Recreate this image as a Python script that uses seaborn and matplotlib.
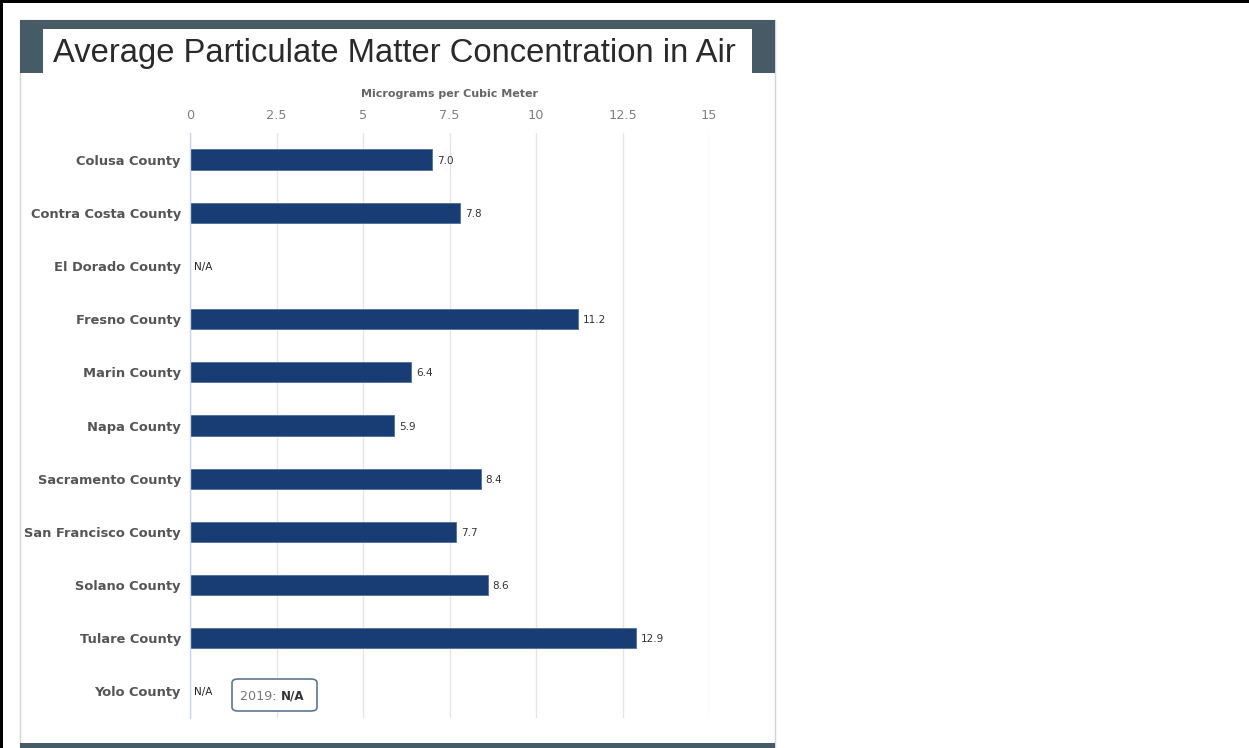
import numpy as np
import pandas as pd
import matplotlib
matplotlib.use("Agg")
import matplotlib.pyplot as plt
from matplotlib.patches import Rectangle, FancyBboxPatch
import seaborn as sns

# Data
counties = ["Colusa County", "Contra Costa County", "El Dorado County", "Fresno County",
            "Marin County", "Napa County", "Sacramento County", "San Francisco County",
            "Solano County", "Tulare County", "Yolo County"]
pm_values = [7.0, 7.8, np.nan, 11.2, 6.4, 5.9, 8.4, 7.7, 8.6, 12.9, np.nan]
x_ticks = [0, 2.5, 5, 7.5, 10, 12.5, 15]
x_tick_labels = ["0", "2.5", "5", "7.5", "10", "12.5", "15"]

title = "Average Particulate Matter Concentration in Air"
axis_title = "Micrograms per Cubic Meter"
tooltip_year = "2019: "
tooltip_value = "N/A"

df = pd.DataFrame({"county": counties, "pm": pm_values})

W, H = 1249, 748
sns.set_theme(style="white")
plt.rcParams["font.family"] = ["DejaVu Sans"]

fig = plt.figure(figsize=(W / 100, H / 100), dpi=100)
fig.patch.set_facecolor("white")


def fx(px):
    return px / W


def fy(py):
    return 1 - py / H


def rect(x0, y0, x1, y1, **kw):
    fig.add_artist(Rectangle((fx(x0), fy(y1)), fx(x1) - fx(x0), fy(y0) - fy(y1),
                             transform=fig.transFigure, **kw))


# Page frame
rect(0, 0, W, 2.5, facecolor="black", edgecolor="none", zorder=0)
rect(0, 0, 3, H, facecolor="black", edgecolor="none", zorder=0)

# Card with header band
rect(20, 20, 775, 748, facecolor="white", edgecolor="#d5d5d5", linewidth=1, zorder=0)
rect(20, 20, 775, 73, facecolor="#465b65", edgecolor="none", zorder=1)
rect(43, 29, 752, 74, facecolor="white", edgecolor="none", zorder=2)
rect(20, 743, 775, 748, facecolor="#465b65", edgecolor="none", zorder=1)

fig.text(fx(394), fy(53.5), title, ha="center", va="center", fontsize=23.6,
         family=["Liberation Sans"], color="#2a2a2a", zorder=3)

# Plot area
ax = fig.add_axes([fx(190), fy(718), fx(709) - fx(190), fy(133) - fy(718)])
ax.set_facecolor("none")

sns.barplot(data=df, x="pm", y="county", order=counties, orient="h",
            color="#173d74", width=0.38, saturation=1, ax=ax, zorder=2,
            edgecolor="#4f6f9a", linewidth=0.6)

ax.set_xlim(0, 15)
ax.set_ylim(10.5, -0.5)
ax.xaxis.tick_top()
ax.xaxis.set_label_position("top")
ax.set_xticks(x_ticks)
ax.set_xticklabels(x_tick_labels, color="#808080", fontsize=9.3)
ax.tick_params(axis="x", length=0, pad=7.7)
ax.set_xlabel(axis_title, fontsize=8.0, color="#666666", fontweight="bold", labelpad=8.6)
ax.set_ylabel("")
ax.grid(axis="x", color="#e6e6e6", linewidth=1, zorder=0)
ax.set_axisbelow(True)

ax.set_yticks(range(len(counties)))
ax.set_yticklabels(counties, fontsize=9.4, color="#555555", fontweight="bold")
ax.set_yticks(np.arange(-0.5, len(counties), 1), minor=True)
ax.tick_params(axis="y", which="major", length=0, pad=6.5)
ax.tick_params(axis="y", which="minor", length=5, width=1, color="#ccd6eb", direction="out")

for side in ["top", "right", "bottom"]:
    ax.spines[side].set_visible(False)
ax.spines["left"].set_color("#ccd6eb")
ax.spines["left"].set_linewidth(1)

# Value labels
for i, v in enumerate(pm_values):
    if np.isnan(v):
        ax.annotate("N/A", (0, i), xytext=(3, 0), textcoords="offset points",
                    va="center_baseline", ha="left", fontsize=7.5, color="#222222")
    else:
        ax.annotate(f"{v:.1f}", (v, i), xytext=(3.5, 0), textcoords="offset points",
                    va="center_baseline", ha="left", fontsize=7.5, color="#333333")

# Tooltip on the last category
box = FancyBboxPatch((fx(232), fy(711)), fx(317) - fx(232), fy(679) - fy(711),
                     boxstyle="round,pad=0,rounding_size=0.005", transform=fig.transFigure,
                     facecolor="white", edgecolor="#5b7796", linewidth=1.2, zorder=5)
fig.add_artist(box)
t1 = fig.text(fx(240), fy(699.5), tooltip_year, ha="left", va="baseline", fontsize=9.2,
              color="#777777", zorder=6)
fig.canvas.draw()
bb = t1.get_window_extent()
fig.text(bb.x1 / W, fy(699.5), tooltip_value, ha="left", va="baseline", fontsize=8.6,
         color="#333333", fontweight="bold", zorder=6)

fig.savefig("out.png", dpi=100)
